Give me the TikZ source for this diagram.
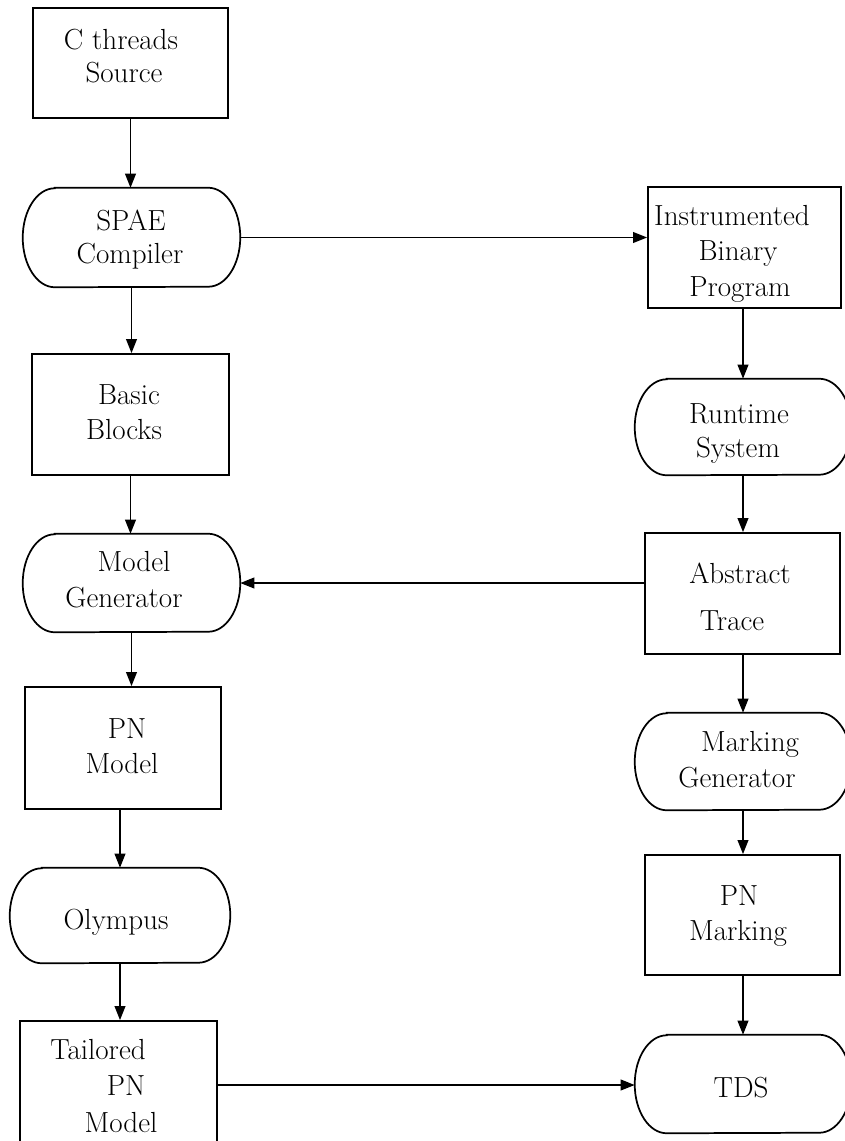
\documentclass[tikz,border=0pt]{standalone}
\usetikzlibrary{arrows.meta}

% Flow of the SPAE tool chain: compile, instrument, trace, model, simulate.
\tikzset{
  box/.style={draw, line width=1.3pt, rectangle, inner sep=0pt},
  stad/.style={rectangle, inner sep=0pt},
  stadline/.style={line width=1.3pt},
  lbl/.style={anchor=base, inner sep=0pt, font=\fontsize{21.8pt}{26pt}\selectfont},
  flow/.style={line width=1.3pt, -{Triangle[length=10.5pt, width=8pt]}},
}

% outline of a terminal (stadium) node with elliptic ends
\newcommand\stadiumoutline[2]{%
  \draw[stadline] ([xshift=24pt]#1.north west) -- ([xshift=-24pt]#1.north east)
    arc[start angle=90, end angle=-90, x radius=24pt, y radius=#2]
    -- ([xshift=24pt]#1.south west)
    arc[start angle=270, end angle=90, x radius=24pt, y radius=#2] -- cycle;}

\begin{document}
\begin{tikzpicture}[x=0.75pt, y=-0.75pt]
  \fill[white] (0,0) rectangle (845,1141);
  \useasboundingbox (0,0) rectangle (845,1141);

  % ---- left column ----
  \node[box, minimum width=146.25pt, minimum height=82.5pt] (csrc) at (130.5,63) {};
  \node[stad, minimum width=162.75pt, minimum height=74.25pt] (spae) at (131.5,237.5) {};
  \node[box, minimum width=147.75pt, minimum height=90.75pt] (basic) at (130.5,414.5) {};
  \node[stad, minimum width=162.75pt, minimum height=73.5pt] (modelgen) at (131.5,583) {};
  \node[box, minimum width=147pt, minimum height=91.5pt] (pnmodel) at (123,748) {};
  \node[stad, minimum width=165pt, minimum height=71.25pt] (olympus) at (120,915.5) {};
  \node[box, minimum width=147.75pt, minimum height=96pt] (tailored) at (118.5,1085) {};

  % ---- right column ----
  \node[box, minimum width=144.75pt, minimum height=90.75pt] (instr) at (744.5,247.5) {};
  \node[stad, minimum width=162pt, minimum height=72pt] (runtime) at (743,427) {};
  \node[box, minimum width=146.25pt, minimum height=90.75pt] (abstract) at (742.5,593.5) {};
  \node[stad, minimum width=162pt, minimum height=72.75pt] (markgen) at (743,761.5) {};
  \node[box, minimum width=146.25pt, minimum height=90pt] (pnmark) at (742.5,915) {};
  \node[stad, minimum width=162pt, minimum height=73.5pt] (tds) at (743,1084) {};

  \stadiumoutline{spae}{37.125pt}
  \stadiumoutline{modelgen}{36.75pt}
  \stadiumoutline{olympus}{35.625pt}
  \stadiumoutline{runtime}{36pt}
  \stadiumoutline{markgen}{36.375pt}
  \stadiumoutline{tds}{36.75pt}

  % ---- labels ----
  \node[lbl] (csrcA) at (121,50) {C threads};
  \node[lbl] (csrcB) at (124,83) {Source};
  \node[lbl] (spaeA) at (131,230) {SPAE};
  \node[lbl] (spaeB) at (130,263) {Compiler};
  \node[lbl] (basicA) at (129,404) {Basic};
  \node[lbl] (basicB) at (124,439) {Blocks};
  \node[lbl] (modelgenA) at (134,571) {Model};
  \node[lbl] (modelgenB) at (124,607) {Generator};
  \node[lbl] (pnmodelA) at (127,738) {PN};
  \node[lbl] (pnmodelB) at (122,773) {Model};
  \node[lbl] (olympusA) at (116,929) {Olympus};
  \node[lbl] (tailoredA) at (98,1059) {Tailored};
  \node[lbl] (tailoredB) at (126,1095) {PN};
  \node[lbl] (tailoredC) at (121,1132) {Model};

  \node[lbl] (instrA) at (732,225) {Instrumented};
  \node[lbl] (instrB) at (738,261) {Binary};
  \node[lbl] (instrC) at (740,296) {Program};
  \node[lbl] (runtimeA) at (739,423) {Runtime};
  \node[lbl] (runtimeB) at (738,457) {System};
  \node[lbl] (abstractA) at (740,583) {Abstract};
  \node[lbl] (abstractB) at (732,630) {Trace};
  \node[lbl] (markgenA) at (750,751) {Marking};
  \node[lbl] (markgenB) at (737,787) {Generator};
  \node[lbl] (pnmarkA) at (739,905) {PN};
  \node[lbl] (pnmarkB) at (738,940) {Marking};
  \node[lbl] (tdsA) at (741,1097) {TDS};

  % ---- connectors ----
  \draw[flow] (csrc.south) -- (csrc.south |- spae.north);
  \draw[flow] (spae.south) -- (spae.south |- basic.north);
  \draw[flow] (basic.south) -- (basic.south |- modelgen.north);
  \draw[flow] (modelgen.south) -- (modelgen.south |- pnmodel.north);
  \draw[flow] (pnmodel.south -| olympus.north) -- (olympus.north);
  \draw[flow] (olympus.south) -- (olympus.south |- tailored.north);

  \draw[flow] (spae.east) -- (spae.east -| instr.west);
  \draw[flow] (instr.south -| runtime.north) -- (runtime.north);
  \draw[flow] (runtime.south) -- (runtime.south |- abstract.north);
  \draw[flow] (abstract.west |- modelgen.east) -- (modelgen.east);
  \draw[flow] (abstract.south -| markgen.north) -- (markgen.north);
  \draw[flow] (markgen.south) -- (markgen.south |- pnmark.north);
  \draw[flow] (pnmark.south -| tds.north) -- (tds.north);
  \draw[flow] (tailored.east) -- (tailored.east -| tds.west);
\end{tikzpicture}
\end{document}
